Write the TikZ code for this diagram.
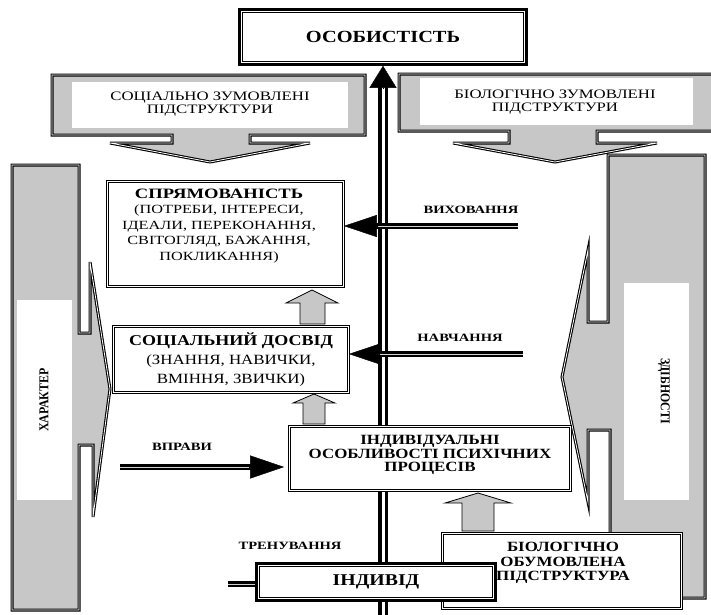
\documentclass[tikz,border=0pt]{standalone}
\usepackage{fontspec}
\setmainfont{Liberation Serif}
\newfontfamily\fb[FakeStretch=1.2]{Liberation Serif}
\newfontfamily\fc[FakeStretch=1.3]{Liberation Serif}
\newfontfamily\fd[FakeStretch=0.88]{Liberation Serif}
\usetikzlibrary{arrows.meta,calc}
\definecolor{fillg}{gray}{0.78}
\begin{document}
\begin{tikzpicture}[x=1pt,y=-1pt,
  outl/.style={draw=black, line width=1.1pt, double=white, double distance=0.8pt, line join=miter, fill=fillg},
  box/.style={draw, fill=white, line width=0.7pt, double=white, double distance=1.4pt, inner sep=0pt},
  thickbox/.style={draw, fill=white, line width=2.6pt, inner sep=0pt},
  shaft/.style={draw, line width=2.8pt, double=gray!35, double distance=1pt},
  mainshaft/.style={draw, line width=3.5pt, double=white, double distance=3pt},
  hollow/.style={draw, line width=0.8pt, fill=fillg, line join=miter},
  tipC/.style={line width=0.4pt, -{Triangle[length=22pt,width=27pt]}},
  tipL/.style={line width=0.4pt, -{Triangle[length=33pt,width=22pt]}},
  tipN/.style={line width=0.4pt, -{Triangle[length=30pt,width=20pt]}},
  tipR/.style={line width=0.4pt, -{Triangle[length=34pt,width=23pt]}},
  lbl/.style={font=\fc\bfseries\fontsize{11.2}{13}\selectfont, inner sep=0pt},
  cal/.style={font=\fc\fontsize{12.9}{13.5}\selectfont, align=center, inner sep=0pt},
  rot/.style={font=\fd\bfseries\fontsize{13.5}{15}\selectfont, inner sep=0pt}
]
\useasboundingbox (0,0) rectangle (711,614);
\clip (0,0) rectangle (711,614);

% left column: character
\draw[outl] (12,165) -- (79,165) -- (79,333) -- (90,333) -- (90,262) -- (110,389) -- (93,517) -- (93,445) -- (79,445) -- (79,610) -- (12,610) -- cycle;
\fill[white] (17,300) rectangle (72,500);
\node[rot, rotate=90] (har) at (44,400) {ХАРАКТЕР};

% right column: abilities
\draw[outl] (608,155) -- (705,155) -- (705,598) -- (610,598) -- (610,430) -- (588,430) -- (588,502) -- (562,377) -- (588,250) -- (588,322) -- (608,322) -- cycle;
\fill[white] (624,283) rectangle (689,500);
\node[rot, rotate=-90] (zdb) at (664,391) {ЗДІБНОСТІ};

% callouts
\draw[outl] (52,75) -- (365,75) -- (365,135) -- (250,135) -- (250,143) -- (310,143) -- (210,162) -- (110,143) -- (172,143) -- (172,135) -- (52,135) -- cycle;
\fill[white] (72,82) rectangle (348,128);
\node[cal] (soc) at (210,104) {СОЦІАЛЬНО ЗУМОВЛЕНІ\\ПІДСТРУКТУРИ};

\draw[outl] (399,74) -- (720,74) -- (720,131) -- (597,131) -- (597,143) -- (657,143) -- (555,162) -- (453,143) -- (509,143) -- (509,131) -- (399,131) -- cycle;
\fill[white] (420,78) rectangle (693,125);
\node[cal] (biosub) at (555,102) {БІОЛОГІЧНО ЗУМОВЛЕНІ\\ПІДСТРУКТУРИ};

% top box
\node[thickbox, minimum width=287pt, minimum height=55pt, font=\fb\bfseries\fontsize{17}{19}\selectfont] (os) at (383,37) {ОСОБИСТІСТЬ};
\draw[line width=0.7pt] ($(os.north west)+(4.5,4.5)$) rectangle ($(os.south east)+(-4.5,-4.5)$);

% central line
\coordinate (cbot) at (383,620);
\draw[mainshaft] (cbot) -- ($(os.south)+(0,21)$);
\draw[tipC] ($(os.south)+(0,23)$) -- (os.south);

% boxes
\node[box, minimum width=236pt, minimum height=105pt] (sp) at (225.5,234) {};
\node[align=center, inner sep=0pt, font=\fc\fontsize{12.5}{15.5}\selectfont] (spt) at (219,226)
  {{\bfseries\fontsize{14.3}{15.5}\selectfont СПРЯМОВАНІСТЬ}\\(ПОТРЕБИ, ІНТЕРЕСИ,\\ІДЕАЛИ, ПЕРЕКОНАННЯ,\\СВІТОГЛЯД, БАЖАННЯ,\\ПОКЛИКАННЯ)};

\node[box, minimum width=235pt, minimum height=66pt, align=center, font=\fb\fontsize{14.1}{19}\selectfont] (sd) at (231,359.5)
  {{\bfseries\fontsize{15}{19}\selectfont СОЦІАЛЬНИЙ ДОСВІД}\\(ЗНАННЯ, НАВИЧКИ,\\ВМІННЯ, ЗВИЧКИ)};

\node[box, minimum width=281pt, minimum height=64pt] (ind) at (430,458.5) {};
\node[align=center, inner sep=0pt, font=\fb\bfseries\fontsize{14.1}{13.8}\selectfont] (indt) at (430,455)
  {ІНДИВІДУАЛЬНІ\\ОСОБЛИВОСТІ ПСИХІЧНИХ\\ПРОЦЕСІВ};

\node[box, minimum width=239pt, minimum height=75pt] (bio) at (562,571) {};
\node[align=center, inner sep=0pt, font=\fb\bfseries\fontsize{14.1}{14.6}\selectfont] (biot) at (563,563)
  {БІОЛОГІЧНО\\ОБУМОВЛЕНА\\ПІДСТРУКТУРА};

\node[thickbox, minimum width=239pt, minimum height=37pt, font=\fb\bfseries\fontsize{16.5}{18}\selectfont] (indv) at (376,582) {ІНДИВІД};
\draw[line width=0.7pt] ($(indv.north west)+(4,4)$) rectangle ($(indv.south east)+(-4,-4)$);

% hollow up arrows
\draw[hollow] (300,324) -- (300,303) -- (286,303) -- (312,290) -- (338,303) -- (325,303) -- (325,324) -- cycle;
\draw[hollow] (303,424) -- (303,403) -- (293,403) -- (314,394) -- (335,403) -- (325,403) -- (325,424) -- cycle;
\draw[hollow] (462,531) -- (462,503) -- (445,503) -- (478,493) -- (511,503) -- (494,503) -- (494,531) -- cycle;

% influence arrows
\coordinate (vyhS) at (518,226);
\draw[shaft] (vyhS) -- ($(vyhS -| sp.east)+(32,0)$);
\draw[tipL] ($(vyhS -| sp.east)+(34,0)$) -- (vyhS -| sp.east);

\coordinate (navS) at (523,354);
\draw[shaft] (navS) -- ($(navS -| sd.east)+(29,0)$);
\draw[tipN] ($(navS -| sd.east)+(31,0)$) -- (navS -| sd.east);

\coordinate (vprS) at (120,467);
\draw[shaft] (vprS) -- ($(vprS -| ind.west)+(-38,0)$);
\draw[tipR] ($(vprS -| ind.west)+(-40,0)$) -- ($(vprS -| ind.west)+(-5,0)$);

\coordinate (trS) at (228,584);
\draw[shaft] (trS) -- (trS -| indv.west);

% labels
\node[lbl] (lvyh) at (471,210) {ВИХОВАННЯ};
\node[lbl] (lnav) at (460,338) {НАВЧАННЯ};
\node[lbl] (lvpr) at (182,447) {ВПРАВИ};
\node[lbl] (ltr) at (290,546) {ТРЕНУВАННЯ};
\end{tikzpicture}
\end{document}
